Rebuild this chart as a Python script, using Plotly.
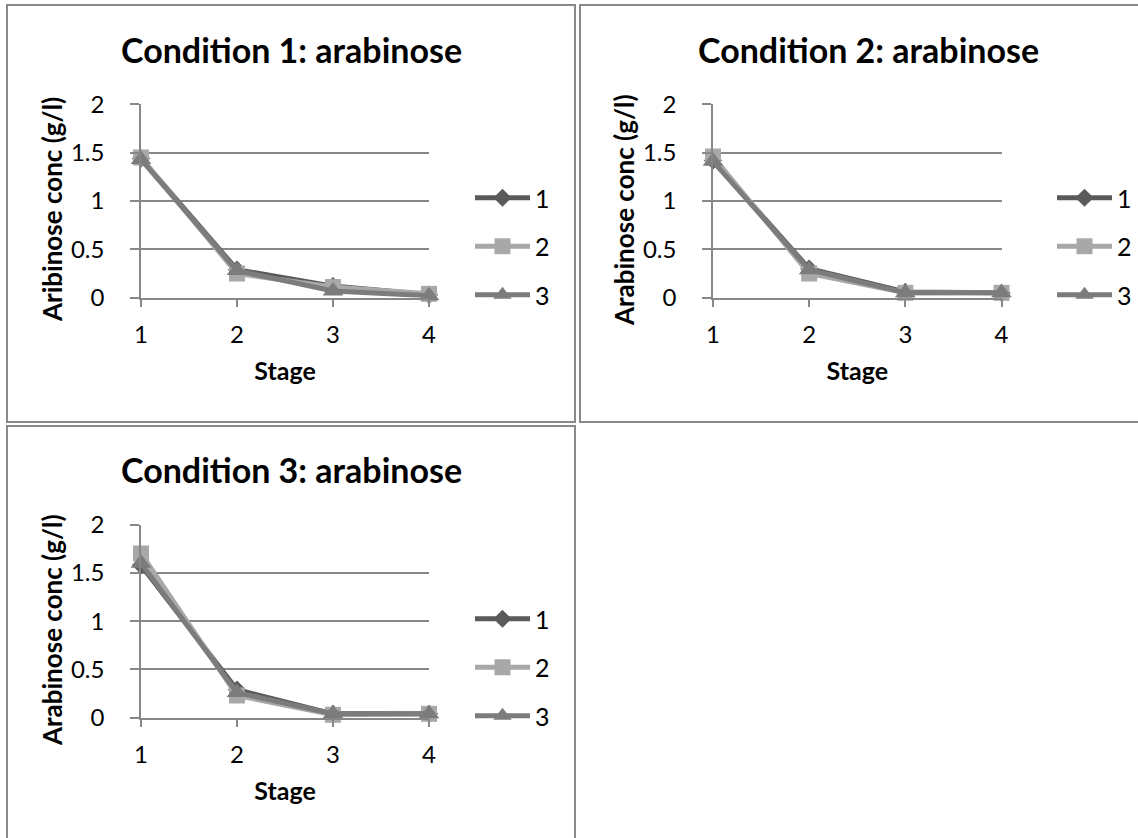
import plotly.graph_objects as go

# ---------------- data ----------------
stages = [1, 2, 3, 4]
series_names = ["1", "2", "3"]
cond_titles = ["Condition 1: arabinose", "Condition 2: arabinose", "Condition 3: arabinose"]
y_titles = ["Aribinose conc (g/l)", "Arabinose conc (g/l)", "Arabinose conc (g/l)"]
x_title = "Stage"
y_tickvals = [0, 0.5, 1, 1.5, 2]
y_ticktext = ["0", "0.5", "1", "1.5", "2"]

c1_s1 = [1.44, 0.29, 0.12, 0.03]
c1_s2 = [1.45, 0.25, 0.11, 0.04]
c1_s3 = [1.43, 0.28, 0.07, 0.02]

c2_s1 = [1.42, 0.30, 0.06, 0.05]
c2_s2 = [1.46, 0.25, 0.05, 0.05]
c2_s3 = [1.41, 0.29, 0.05, 0.05]

c3_s1 = [1.58, 0.29, 0.04, 0.04]
c3_s2 = [1.70, 0.23, 0.03, 0.04]
c3_s3 = [1.60, 0.26, 0.04, 0.04]

conditions = [[c1_s1, c1_s2, c1_s3], [c2_s1, c2_s2, c2_s3], [c3_s1, c3_s2, c3_s3]]

# ---------------- style ----------------
W, H = 1138, 838
FONT = "Lato"
colors = ["#5a5a5a", "#a8a8a8", "#7c7c7c"]
symbols = ["diamond", "square", "triangle-up"]
msizes = [14, 16, 18]
GRID = "#878787"
TXT = 25
TICK = 24

# pixel geometry of each panel: plot area, frame, title, legend, y-title
panels = [
    dict(l=141, r=429, t=104.3, b=297.7, frame=(7, 5, 575, 422), title=(291, 50), leg=(470, 175), ytl=(52, 210)),
    dict(l=713, r=1001.5, t=104.3, b=297.7, frame=(580, 5, 1142, 422), title=(868, 50), leg=(1052, 175), ytl=(624, 210)),
    dict(l=141, r=429, t=524.5, b=717.7, frame=(7, 426, 575, 850), title=(291, 470), leg=(470, 596), ytl=(52, 630)),
]


def px(x):
    return x / W


def py(y):
    return 1 - y / H


fig = go.Figure()
shapes = []
annotations = []
layout_axes = {}

for i, (p, data) in enumerate(zip(panels, conditions)):
    n = "" if i == 0 else str(i + 1)
    xa, ya = "x" + n, "y" + n
    legname = "legend" + n
    for j, vals in enumerate(data):
        fig.add_trace(go.Scatter(
            x=stages, y=vals, name=series_names[j], mode="lines+markers",
            line=dict(color=colors[j], width=5),
            marker=dict(symbol=symbols[j], size=msizes[j], color=colors[j]),
            xaxis=xa, yaxis=ya, legend=legname, legendgroup=f"{i}-{j}",
            cliponaxis=False,
        ))
    layout_axes["xaxis" + n] = dict(
        domain=[px(p["l"]), px(p["r"])], anchor=ya, range=[1, 4],
        tickvals=stages, ticktext=[str(s) for s in stages],
        showgrid=False, zeroline=False, showline=True, linecolor=GRID, linewidth=1.5,
        ticks="outside", ticklen=8, tickcolor=GRID, tickwidth=1.5,
        ticklabelstandoff=7,
        tickfont=dict(family=FONT, size=TICK, color="#000"),
        title=dict(text="<b>" + x_title + "</b>", font=dict(family=FONT, size=TXT, color="#000"), standoff=15),
        fixedrange=True, automargin=False,
    )
    layout_axes["yaxis" + n] = dict(
        domain=[py(p["b"]), py(p["t"])], anchor=xa, range=[0, 2],
        tickvals=y_tickvals, ticktext=y_ticktext,
        showgrid=True, gridcolor=GRID, gridwidth=1.5, zeroline=False,
        showline=True, linecolor=GRID, linewidth=1.5,
        ticks="outside", ticklen=9, tickcolor=GRID, tickwidth=1.5,
        ticklabelstandoff=21,
        tickfont=dict(family=FONT, size=TICK, color="#000"),
        fixedrange=True, automargin=False,
    )
    layout_axes[legname] = dict(
        x=px(p["leg"][0]), y=py(p["leg"][1]), xanchor="left", yanchor="top",
        font=dict(family=FONT, size=TXT, color="#000"),
        itemwidth=55, tracegroupgap=13, bgcolor="rgba(0,0,0,0)",
    )
    fx0, fy0, fx1, fy1 = p["frame"]
    shapes.append(dict(type="rect", xref="paper", yref="paper",
                       x0=px(fx0), x1=px(fx1), y0=py(fy1), y1=py(fy0),
                       line=dict(color="#8a8a8a", width=2), layer="below"))
    annotations.append(dict(text="<b>" + cond_titles[i] + "</b>", xref="paper", yref="paper",
                            x=px(p["title"][0]), y=py(p["title"][1] - 1), xanchor="center", yanchor="middle",
                            showarrow=False, font=dict(family=FONT, size=34, color="#000")))
    annotations.append(dict(text="<b>" + y_titles[i] + "</b>", xref="paper", yref="paper",
                            x=px(p["ytl"][0]), y=py(p["ytl"][1]), xanchor="center", yanchor="middle",
                            textangle=-90, showarrow=False,
                            font=dict(family=FONT, size=26, color="#000")))

fig.update_layout(
    width=W, height=H, margin=dict(l=0, r=0, t=0, b=0, autoexpand=False),
    paper_bgcolor="white", plot_bgcolor="white",
    showlegend=True, shapes=shapes, annotations=annotations,
    **layout_axes,
)

fig.write_html("out.html")
